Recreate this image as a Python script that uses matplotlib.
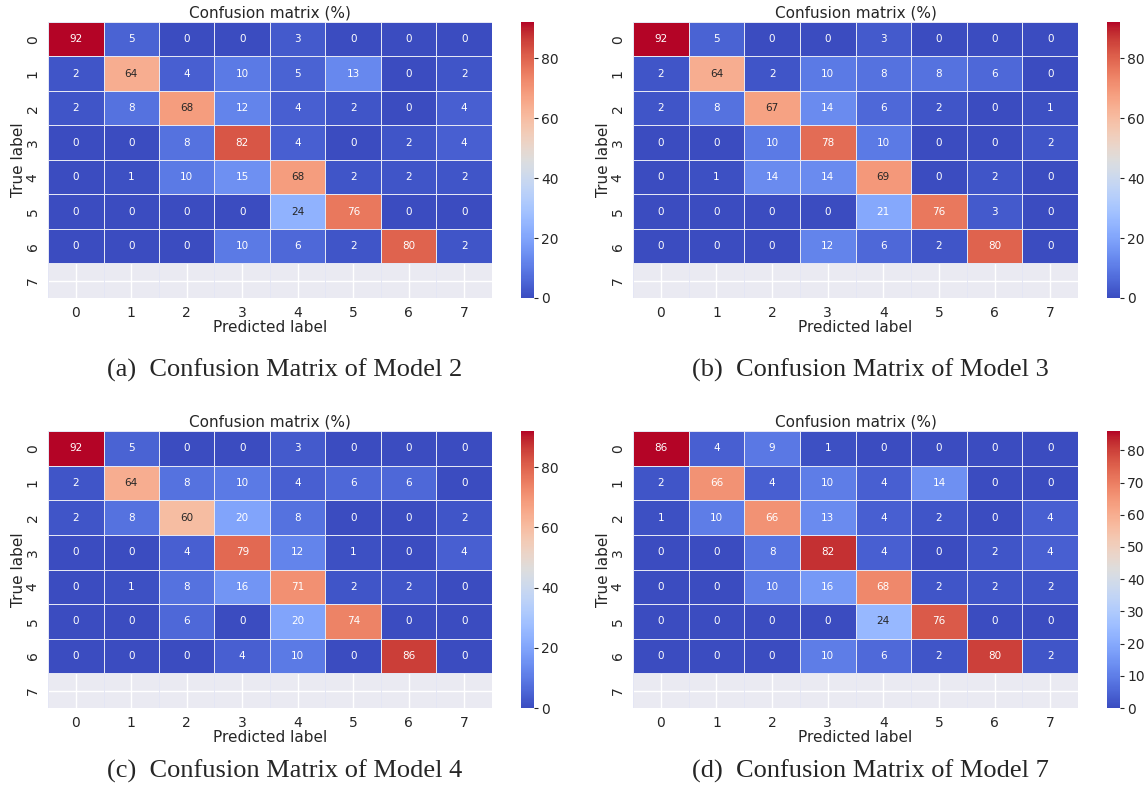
import numpy as np
import matplotlib.pyplot as plt
import seaborn as sns

# class labels 0..7 (class 7 has no true samples -> empty row)
class_labels = [0, 1, 2, 3, 4, 5, 6, 7]

cm_model2 = [[92, 5, 0, 0, 3, 0, 0, 0],
             [2, 64, 4, 10, 5, 13, 0, 2],
             [2, 8, 68, 12, 4, 2, 0, 4],
             [0, 0, 8, 82, 4, 0, 2, 4],
             [0, 1, 10, 15, 68, 2, 2, 2],
             [0, 0, 0, 0, 24, 76, 0, 0],
             [0, 0, 0, 10, 6, 2, 80, 2]]

cm_model3 = [[92, 5, 0, 0, 3, 0, 0, 0],
             [2, 64, 2, 10, 8, 8, 6, 0],
             [2, 8, 67, 14, 6, 2, 0, 1],
             [0, 0, 10, 78, 10, 0, 0, 2],
             [0, 1, 14, 14, 69, 0, 2, 0],
             [0, 0, 0, 0, 21, 76, 3, 0],
             [0, 0, 0, 12, 6, 2, 80, 0]]

cm_model4 = [[92, 5, 0, 0, 3, 0, 0, 0],
             [2, 64, 8, 10, 4, 6, 6, 0],
             [2, 8, 60, 20, 8, 0, 0, 2],
             [0, 0, 4, 79, 12, 1, 0, 4],
             [0, 1, 8, 16, 71, 2, 2, 0],
             [0, 0, 6, 0, 20, 74, 0, 0],
             [0, 0, 0, 4, 10, 0, 86, 0]]

cm_model7 = [[86, 4, 9, 1, 0, 0, 0, 0],
             [2, 66, 4, 10, 4, 14, 0, 0],
             [1, 10, 66, 13, 4, 2, 0, 4],
             [0, 0, 8, 82, 4, 0, 2, 4],
             [0, 0, 10, 16, 68, 2, 2, 2],
             [0, 0, 0, 0, 24, 76, 0, 0],
             [0, 0, 0, 10, 6, 2, 80, 2]]

captions = ['(a)  Confusion Matrix of Model 2', '(b)  Confusion Matrix of Model 3',
            '(c)  Confusion Matrix of Model 4', '(d)  Confusion Matrix of Model 7']
cbar_ticks = [[0, 20, 40, 60, 80], [0, 20, 40, 60, 80],
              [0, 20, 40, 60, 80], [0, 10, 20, 30, 40, 50, 60, 70, 80]]

sns.set_style('darkgrid')
plt.rcParams['font.family'] = ['DejaVu Sans']

W, H = 1147, 795
fig = plt.figure(figsize=(W / 100, H / 100), dpi=100)


def box(l, t, r, b):
    # pixel box -> figure fraction
    return [l / W, 1 - b / H, (r - l) / W, (b - t) / H]


# (heatmap box, colorbar box, caption x, caption y) in pixels
layout = [((48, 22, 492, 298), (521, 22, 534, 298), 285, 370),
          ((633, 22, 1078, 298), (1107, 22, 1120, 298), 870, 370),
          ((48, 431, 492, 708), (521, 431, 534, 708), 285, 771),
          ((633, 431, 1078, 708), (1107, 431, 1120, 708), 870, 771)]

matrices = [cm_model2, cm_model3, cm_model4, cm_model7]

for cm, (hb, cb, cx, cy), cap, ticks in zip(matrices, layout, captions, cbar_ticks):
    data = np.vstack([np.array(cm, dtype=float), np.full((1, len(class_labels)), np.nan)])
    ax = fig.add_axes(box(*hb))
    cax = fig.add_axes(box(*cb))
    sns.heatmap(data, ax=ax, cbar_ax=cax, cmap='coolwarm', vmin=0,
                annot=True, fmt='.0f', annot_kws={'size': 7.5},
                linewidths=0.6, linecolor='#e4e6f4',
                xticklabels=class_labels, yticklabels=class_labels,
                cbar_kws={'ticks': ticks})
    ax.grid(True, color='white', linewidth=1)
    ax.set_axisbelow(True)
    ax.set_title('Confusion matrix (%)', fontsize=11, pad=3)
    ax.set_xlabel('Predicted label', fontsize=11, labelpad=0)
    ax.set_ylabel('True label', fontsize=11, labelpad=0)
    ax.tick_params(axis='both', labelsize=10, length=0, pad=6)
    plt.setp(ax.get_yticklabels(), rotation=90, va='center')
    cax.tick_params(labelsize=10, length=3, width=0.8, pad=2, right=True)
    fig.text(cx / W, 1 - cy / H, cap, ha='center', va='center',
             fontsize=19, family='Liberation Serif')

plt.savefig('out.png', dpi=100)
